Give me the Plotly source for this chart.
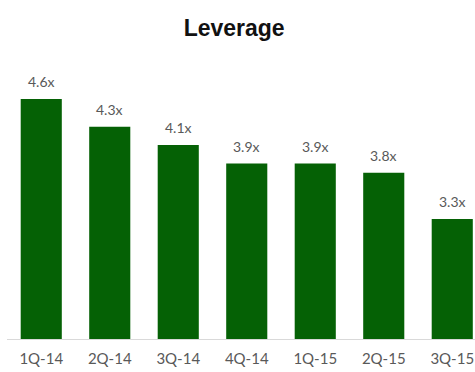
import plotly.graph_objects as go

categories = ["1Q-14", "2Q-14", "3Q-14", "4Q-14", "1Q-15", "2Q-15", "3Q-15"]
values = [4.6, 4.3, 4.1, 3.9, 3.9, 3.8, 3.3]
labels = ["4.6x", "4.3x", "4.1x", "3.9x", "3.9x", "3.8x", "3.3x"]

fig = go.Figure()
fig.add_trace(go.Bar(
    x=list(range(len(categories))), y=values,
    marker=dict(color="#056105", line=dict(width=0)),
    width=0.6,
))
for i, (v, t) in enumerate(zip(values, labels)):
    fig.add_annotation(x=i, y=v, text=t, showarrow=False, yanchor="bottom",
                       yshift=7, font=dict(family="Lato", size=14, color="#595959"))

fig.update_layout(
    width=475, height=372,
    margin=dict(l=7, r=0, t=62, b=33),
    paper_bgcolor="white", plot_bgcolor="white",
    showlegend=False,
    title=dict(text="<b>Leverage</b>", x=0.493, xanchor="center", y=0.925, yanchor="middle",
               font=dict(family="Liberation Sans", size=23, color="#111111")),
    xaxis=dict(range=[-0.5, -0.5 + 468 / 68.5], tickmode="array",
               tickvals=list(range(len(categories))), ticktext=categories,
               showline=True, linecolor="#d9d9d9", linewidth=1, showgrid=False,
               zeroline=False, ticks="outside", ticklen=6, tickcolor="rgba(0,0,0,0)",
               tickfont=dict(family="Lato", size=15, color="#595959")),
    yaxis=dict(range=[2.0, 5.0], visible=False, showgrid=False, zeroline=False),
)
fig.write_html("out.html")
